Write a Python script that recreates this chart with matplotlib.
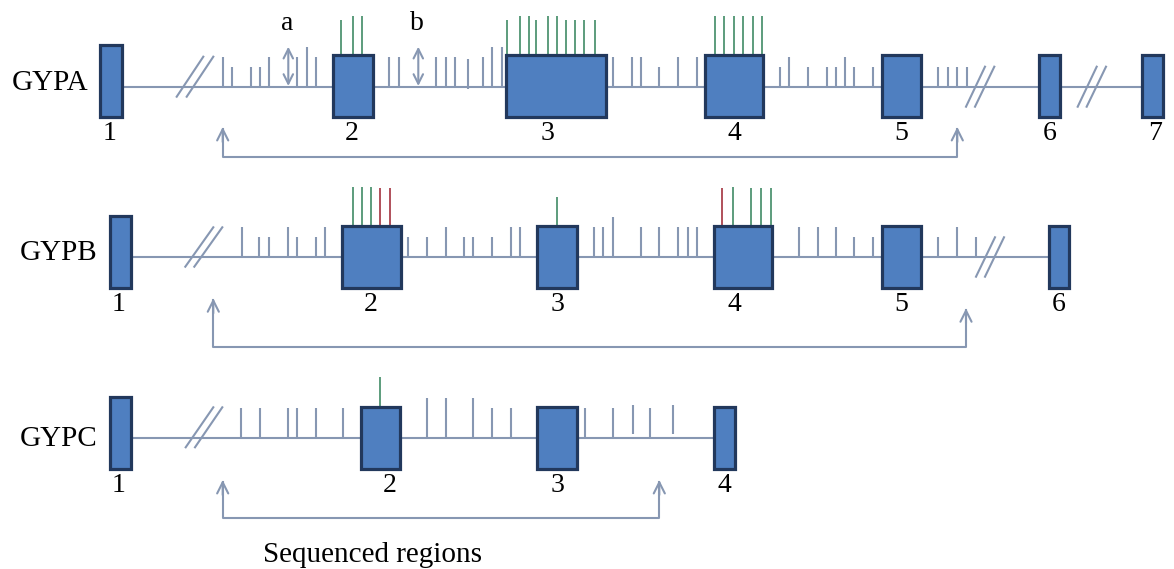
import matplotlib.pyplot as plt
from matplotlib.patches import Rectangle

plt.rcParams['font.family'] = ['Liberation Serif', 'DejaVu Serif']

LINE = '#8797b2'
FILL = '#4f7fc0'
EDGE = '#22385c'
GREEN = '#5c9c7c'
RED = '#b0505a'

genes = ['GYPA', 'GYPB', 'GYPC']
baseline = [87, 256.7, 437.7]
label_pos = [(50, 90), (59, 260), (59, 446)]

# exons: left, right, top, bottom
gypa_exons = [(100, 122, 45, 117), (333, 373, 55, 117), (506, 606, 55, 117),
              (705, 763, 55, 117), (882, 921, 55, 117), (1039, 1060, 55, 117),
              (1142, 1163, 55, 117)]
gypb_exons = [(110, 131, 216, 288), (342, 401, 226, 288), (537, 577, 226, 288),
              (714, 772, 226, 288), (882, 921, 226, 288), (1049, 1069, 226, 288)]
gypc_exons = [(110, 131, 397, 469), (361, 400, 407, 469), (537, 577, 407, 469),
              (714, 735, 407, 469)]
exons = [gypa_exons, gypb_exons, gypc_exons]

exon_num_x = [[110, 352, 547, 734, 901, 1050, 1155],
              [119, 371, 557, 734, 901, 1059],
              [119, 390, 557, 724]]
exon_num_y = [140, 310.7, 491.7]

# intron ticks: x and top end
gypa_tick_x = [223.3, 232.3, 250.7, 260, 269.3, 297.3, 306.7, 316,
               389.3, 399.3, 436, 445.7, 455, 467.7, 482.7, 491.7, 501.7,
               612.7, 631.7, 640.7, 659.3, 678.3, 696.7,
               780, 789.3, 808.3, 826.7, 836, 845, 854.3, 873.3,
               938.3, 947.7, 957.3, 966.7]
gypa_tick_top = [56.7, 66.7, 66.7, 66.7, 56.7, 56.7, 46.7, 56.7,
                 56.7, 56.7, 56.7, 56.7, 56.7, 59, 56.7, 46.7, 46.7,
                 56.7, 56.7, 56.7, 66.7, 56.7, 56.7,
                 66.7, 56.7, 66.7, 66.7, 66.7, 56.7, 66.7, 66.7,
                 66.7, 66.7, 66.7, 66.7]
gypa_tick_bot = [87] * 13 + [89] + [87] * 21

gypb_tick_x = [241.7, 259.3, 269, 287.7, 296.7, 315.7, 325,
               408.3, 426.7, 446, 464, 473.3, 492.3, 510.7, 520,
               594.3, 603.3, 613.3, 641, 659.3, 678.3, 687.7, 696.7,
               799, 817.7, 836, 854.3, 873.3,
               938.3, 957.3, 975.7]
gypb_tick_top = [227.3, 237.3, 237.3, 227.3, 237.3, 237.3, 227.3,
                 237.3, 237.3, 227.3, 237.3, 237.3, 237.3, 227.3, 227.3,
                 227.3, 227.3, 217.3, 227.3, 227.3, 227.3, 227.3, 227.3,
                 227.3, 227.3, 227.3, 237.3, 237.3,
                 237.3, 227.3, 237.3]
gypb_tick_bot = [256.7] * 31

gypc_tick_x = [241, 260, 287.7, 296.7, 315.7, 343.3,
               426.7, 445.7, 473.3, 492.3, 510.7,
               585, 612.7, 633.3, 650, 672.7]
gypc_tick_top = [408.3, 408.3, 408.3, 408.3, 408.3, 408.3,
                 398.3, 398.3, 398.3, 408.3, 408.3,
                 408.3, 408.3, 405, 408.3, 405]
gypc_tick_bot = [437.7] * 13 + [434, 437.7, 434]

tick_x = [gypa_tick_x, gypb_tick_x, gypc_tick_x]
tick_top = [gypa_tick_top, gypb_tick_top, gypc_tick_top]
tick_bot = [gypa_tick_bot, gypb_tick_bot, gypc_tick_bot]

# variant lines above exons: x, top, colour
gypa_var_x = [340.7, 352.7, 362.3,
              506.7, 520, 529, 536, 547.7, 556.7, 565.7, 575, 584.3, 595,
              715, 724.3, 734.3, 743.3, 752.7, 762.3]
gypa_var_top = [20, 16, 16, 20, 16, 16, 20, 16, 16, 20, 20, 20, 20,
                16, 16, 16, 16, 16, 16]
gypa_var_col = [GREEN] * 19
gypa_var_bot = [55] * 19

gypb_var_x = [352.7, 362, 371, 380, 390, 557.3, 721.7, 733.3, 751, 760.7, 770.7]
gypb_var_top = [186.7, 186.7, 186.7, 188.3, 188.3, 196.7, 188.3, 186.7, 188, 188, 188]
gypb_var_col = [GREEN, GREEN, GREEN, RED, RED, GREEN, RED, GREEN, GREEN, GREEN, GREEN]
gypb_var_bot = [226] * 11

gypc_var_x = [380]
gypc_var_top = [377.3]
gypc_var_col = [GREEN]
gypc_var_bot = [407]

var_x = [gypa_var_x, gypb_var_x, gypc_var_x]
var_top = [gypa_var_top, gypb_var_top, gypc_var_top]
var_col = [gypa_var_col, gypb_var_col, gypc_var_col]
var_bot = [gypa_var_bot, gypb_var_bot, gypc_var_bot]

# break marks "//": x bottom, y bottom, x top, y top
breaks = [[(176.7, 96.7, 203.3, 56.7), (186.7, 96.7, 213.3, 56.7),
           (966, 106.7, 985, 66.7), (975, 106.7, 994.3, 66.7),
           (1077.7, 106.7, 1096.7, 66.7), (1086.7, 106.7, 1106, 66.7)],
          [(185.3, 266.7, 213.3, 227.3), (194.3, 266.7, 222.3, 227.3),
           (976, 276.7, 995, 237.3), (985, 276.7, 1004, 237.3)],
          [(185.7, 447.3, 213.3, 407.3), (195, 447.3, 222.3, 407.3)]]

# sequenced region brackets: left x, right x, line y, left top, right top
brackets = [(222.7, 957.3, 157, 127, 127),
            (213.3, 966, 346.7, 298.3, 308.3),
            (222.7, 659.3, 517.7, 480, 480)]

fig = plt.figure(figsize=(11.74, 5.69), dpi=100)
ax = fig.add_axes([0, 0, 1, 1])
ax.set_xlim(0, 1174)
ax.set_ylim(569, 0)
ax.axis('off')

for i in range(3):
    y = baseline[i]
    ex = exons[i]
    ax.plot([ex[0][1], ex[-1][0]], [y, y], color=LINE, lw=1.5, zorder=1)
    ax.vlines(tick_x[i], tick_bot[i], tick_top[i], color=LINE, lw=1.5, zorder=1)
    for b in breaks[i]:
        ax.plot([b[0], b[2]], [b[1], b[3]], color=LINE, lw=1.5, zorder=2)
    for (x0, x1, t, bt) in ex:
        ax.add_patch(Rectangle((x0, t), x1 - x0, bt - t, facecolor=FILL,
                               edgecolor=EDGE, lw=2.3, zorder=3))
    ax.vlines(var_x[i], var_bot[i], var_top[i], colors=var_col[i], lw=1.4, zorder=2)
    for n, x in enumerate(exon_num_x[i]):
        ax.text(x, exon_num_y[i], str(n + 1), ha='center', va='baseline',
                fontsize=20, color='black')
    ax.text(label_pos[i][0], label_pos[i][1], genes[i], ha='center',
            va='baseline', fontsize=21)

    lx, rx, by, lt, rt = brackets[i]
    ax.plot([lx, lx, rx, rx], [lt + 2, by, by, rt + 2], color=LINE, lw=1.5)
    for x, t in [(lx, lt), (rx, rt)]:
        ax.annotate('', xy=(x, t), xytext=(x, t + 15),
                    arrowprops=dict(arrowstyle='->', color=LINE, lw=1.5,
                                    mutation_scale=20, shrinkA=0, shrinkB=0))

# double arrows a and b
for x, lab in [(288.3, 'a'), (418.3, 'b')]:
    ax.annotate('', xy=(x, 46.7), xytext=(x, 86),
                arrowprops=dict(arrowstyle='<->', color=LINE, lw=1.5,
                                mutation_scale=17, shrinkA=0, shrinkB=0))
    ax.text(x - 1, 30, lab, ha='center', va='baseline', fontsize=20)

ax.text(372.5, 561.7, 'Sequenced regions', ha='center', va='baseline', fontsize=21)

fig.savefig('out.png', dpi=100)
